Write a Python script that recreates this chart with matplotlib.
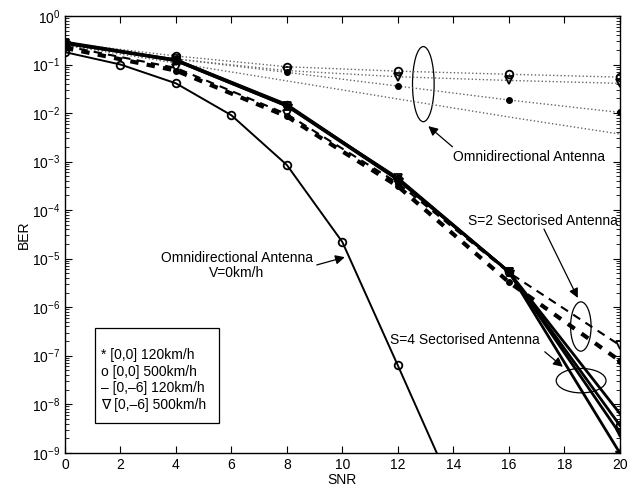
import matplotlib
matplotlib.use("Agg")
import matplotlib.pyplot as plt
import numpy as np
from matplotlib.patches import Ellipse, Rectangle
from matplotlib.ticker import LogLocator, NullFormatter, MultipleLocator

plt.rcParams['font.family'] = ['Liberation Sans', 'DejaVu Sans']
plt.rcParams['mathtext.fontset'] = 'custom'
plt.rcParams['mathtext.rm'] = 'Liberation Sans'
plt.rcParams['mathtext.it'] = 'Liberation Sans:italic'
plt.rcParams['font.size'] = 10

# SNR grids
snr = [0, 4, 8, 12, 16, 20]
snr_static = [0, 2, 4, 6, 8, 10, 12, 14]

# omnidirectional antenna, V=0km/h
ber_static = [0.18, 0.1, 0.041, 0.009, 8.5e-4, 2.2e-5, 6.3e-8, 1.7e-10]

# omnidirectional antenna, moving (dotted)
omni_00_120 = [0.25, 0.13, 0.069, 0.036, 0.0186, 0.0103]
omni_00_500 = [0.28, 0.15, 0.09, 0.073, 0.063, 0.055]
omni_06_120 = [0.25, 0.107, 0.046, 0.0195, 0.0083, 0.0037]
omni_06_500 = [0.27, 0.13, 0.075, 0.056, 0.047, 0.041]

# S=2 sectorised antenna (dashed)
s2_00_120 = [0.22, 0.075, 0.0085, 3.1e-4, 3.3e-6, 7.9e-8]
s2_06_500 = [0.24, 0.085, 0.0095, 3.6e-4, 5.2e-6, 1.65e-7]

# S=4 sectorised antenna (solid)
s4_00_120 = [0.28, 0.12, 0.014, 4.2e-4, 5.4e-6, 1.0e-9]
s4_00_500 = [0.27, 0.125, 0.0145, 4.3e-4, 5.4e-6, 3.7e-9]
s4_06_120 = [0.29, 0.125, 0.015, 4.4e-4, 5.4e-6, 6.5e-9]
s4_06_500 = [0.28, 0.12, 0.014, 4.6e-4, 5.4e-6, 2.5e-9]

legend_lines = ["* [0,0] 120km/h", "o [0,0] 500km/h",
                "\u2013 [0,\u20136] 120km/h", "\u2207 [0,\u20136] 500km/h"]

fig = plt.figure(figsize=(6.27, 4.88), dpi=100)
ax = fig.add_axes([0.1037, 0.0723, 0.8846, 0.8949])

dot = dict(marker='o', markersize=4, mfc='k', mec='k')
circ = dict(marker='o', markersize=5.5, mfc='none', mec='k', mew=1.3)
tri = dict(marker='v', markersize=6, mfc='none', mec='k', mew=1.3)

# dotted omnidirectional curves
ax.plot(snr, omni_06_120, ':', color='0.4', lw=1.0)
ax.plot(snr, omni_00_120, ':', color='0.4', lw=1.0, **dot)
ax.plot(snr, omni_06_500, ':', color='0.4', lw=1.0, **tri)
ax.plot(snr, omni_00_500, ':', color='0.4', lw=1.0, **circ)

# static omnidirectional curve
ax.plot(snr_static, ber_static, '-', color='k', lw=1.4, **circ)

# S=2 dashed
ax.plot(snr, s2_06_500, '--', color='k', lw=1.5, dashes=(4, 3), **tri)
ax.plot(snr, s2_00_120, '--', color='k', lw=3.0, dashes=(2, 2), **dot)

# S=4 solid
ax.plot(snr, s4_06_120, '-', color='k', lw=2.0)
ax.plot(snr, s4_00_500, '-', color='k', lw=2.0, **circ)
ax.plot(snr, s4_06_500, '-', color='k', lw=2.0, **tri)
ax.plot(snr, s4_00_120, '-', color='k', lw=2.0, marker='*', markersize=7,
        mfc='k', mec='k')

ax.set_yscale('log')
ax.set_xlim(0, 20)
ax.set_ylim(1e-9, 1)
ax.xaxis.set_major_locator(MultipleLocator(2))
ax.yaxis.set_major_locator(LogLocator(base=10, numticks=12))
ax.yaxis.set_minor_locator(LogLocator(base=10, subs=np.arange(2, 10), numticks=12))
ax.yaxis.set_minor_formatter(NullFormatter())
ax.tick_params(which='both', direction='in', top=True, right=True)
ax.tick_params(which='major', length=5, labelsize=10)
ax.tick_params(which='minor', length=3)
for s in ax.spines.values():
    s.set_linewidth(1.0)
ax.set_xlabel('SNR', fontsize=10, labelpad=1)
ax.set_ylabel('BER', fontsize=10, labelpad=1)

# annotations
ax.add_patch(Ellipse((0.646, 0.844), 0.039, 0.172, transform=ax.transAxes,
                     fill=False, ec='k', lw=0.9))
ax.add_patch(Ellipse((0.930, 0.289), 0.037, 0.113, transform=ax.transAxes,
                     fill=False, ec='k', lw=0.9))
ax.add_patch(Ellipse((0.9305, 0.165), 0.0898, 0.0559, transform=ax.transAxes,
                     fill=False, ec='k', lw=0.9))

arrow = dict(arrowstyle='-|>', color='k', lw=0.9, mutation_scale=14,
             shrinkA=0, shrinkB=0)
ax.text(14.0, 10**-2.91, 'Omnidirectional Antenna', ha='left', va='center')
ax.annotate('', xy=(13.1, 10**-2.27), xytext=(13.97, 10**-2.695), arrowprops=arrow)

ax.text(14.54, 10**-4.23, 'S=2 Sectorised Antenna', ha='left', va='center')
ax.annotate('', xy=(18.49, 10**-5.81), xytext=(17.27, 10**-4.39), arrowprops=arrow)

ax.text(11.73, 10**-6.68, 'S=4 Sectorised Antenna', ha='left', va='center')
ax.annotate('', xy=(17.95, 10**-7.23), xytext=(17.3, 10**-6.92), arrowprops=arrow)

ax.text(6.2, 10**-5.15, 'Omnidirectional Antenna\nV=0km/h', ha='center',
        va='center', multialignment='center', linespacing=1.1)
ax.annotate('', xy=(10.09, 10**-4.97), xytext=(9.08, 10**-5.13), arrowprops=arrow)

# legend box
ax.add_patch(Rectangle((0.0539, 0.0673), 0.2231, 0.2177, transform=ax.transAxes,
                       fill=False, ec='k', lw=0.9))
for i, txt in enumerate(legend_lines):
    ax.text(0.0646, 0.2237 - i * 0.0383, txt, transform=ax.transAxes,
            ha='left', va='center', fontsize=10)

fig.savefig('out.png', dpi=100)
